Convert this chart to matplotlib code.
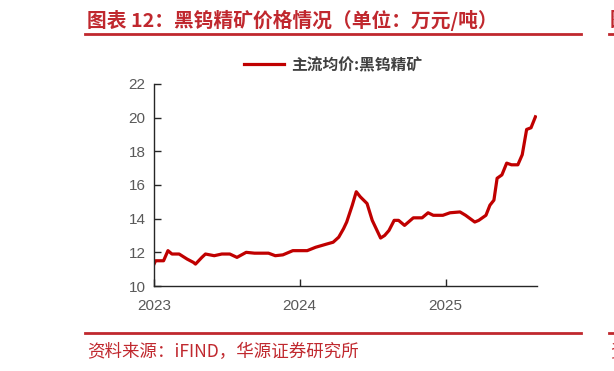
import numpy as np
import pandas as pd
import matplotlib
matplotlib.use("Agg")
import matplotlib.pyplot as plt
import matplotlib.dates as mdates

# 主流均价:黑钨精矿 (万元/吨)
dates = ["2023-01-01", "2023-01-05", "2023-01-25", "2023-02-05", "2023-02-15",
         "2023-03-05", "2023-03-25", "2023-04-10", "2023-04-15", "2023-05-01",
         "2023-05-10", "2023-06-01", "2023-06-20", "2023-07-10", "2023-07-28",
         "2023-08-20", "2023-09-10", "2023-10-15", "2023-11-01", "2023-11-20",
         "2023-12-15", "2024-01-20", "2024-02-10", "2024-03-10", "2024-03-25",
         "2024-04-08", "2024-04-20", "2024-04-28", "2024-05-12", "2024-05-22",
         "2024-06-01", "2024-06-18", "2024-07-01", "2024-07-22", "2024-08-01",
         "2024-08-12", "2024-08-25", "2024-09-05", "2024-09-20", "2024-10-12",
         "2024-11-03", "2024-11-18", "2024-12-01", "2024-12-25", "2025-01-12",
         "2025-02-06", "2025-02-20", "2025-03-15", "2025-03-25", "2025-04-12",
         "2025-04-22", "2025-05-02", "2025-05-10", "2025-05-22", "2025-06-03",
         "2025-06-15", "2025-07-01", "2025-07-12", "2025-07-23", "2025-08-03",
         "2025-08-14"]
prices = [11.3, 11.5, 11.5, 12.1, 11.9,
          11.9, 11.6, 11.4, 11.3, 11.7,
          11.9, 11.8, 11.9, 11.9, 11.7,
          12.0, 11.95, 11.95, 11.8, 11.85,
          12.1, 12.1, 12.3, 12.5, 12.6,
          12.9, 13.4, 13.8, 14.8, 15.6,
          15.3, 14.9, 13.9, 12.85, 13.0,
          13.3, 13.9, 13.9, 13.6, 14.05,
          14.05, 14.35, 14.2, 14.2, 14.35,
          14.4, 14.2, 13.8, 13.9, 14.2,
          14.8, 15.1, 16.4, 16.6, 17.3,
          17.2, 17.2, 17.8, 19.3, 19.4,
          20.05]
series_name = "主流均价:黑钨精矿"
title = "图表 12：黑钨精矿价格情况（单位：万元/吨）"
source = "资料来源：iFIND，华源证券研究所"
yticks = [10, 12, 14, 16, 18, 20, 22]
xticks = ["2023-01-01", "2024-01-01", "2025-01-01"]

red = "#C0282E"
cjk = ["Noto Sans CJK SC", "DejaVu Sans"]
plt.rcParams["font.family"] = ["Liberation Sans", "Noto Sans CJK SC"]

fig = plt.figure(figsize=(6.14, 3.71), dpi=100)
ax = fig.add_axes([0.2508, 0.2291, 0.6238, 0.5445])

d = pd.to_datetime(dates)
ax.plot(d, prices, color="#C00000", lw=2.3, label=series_name,
        solid_joinstyle="round")

ax.set_ylim(10, 22)
ax.set_yticks(yticks)
ax.set_xlim(pd.Timestamp("2023-01-01"), pd.Timestamp("2025-08-18"))
ax.set_xticks(pd.to_datetime(xticks))
ax.xaxis.set_major_formatter(mdates.DateFormatter("%Y"))
for s in ["top", "right"]:
    ax.spines[s].set_visible(False)
for s in ["left", "bottom"]:
    ax.spines[s].set_color("#262626")
    ax.spines[s].set_linewidth(1.0)
ax.tick_params(axis="both", direction="in", length=5, width=1,
               color="#262626", labelcolor="#595959", labelsize=11)
ax.tick_params(axis="x", pad=9)
ax.tick_params(axis="y", pad=6)

leg = fig.legend(loc="center", bbox_to_anchor=(0.542, 0.825), frameon=False,
                 handlelength=2.55, handletextpad=0.45,
                 prop={"family": cjk, "weight": "bold", "size": 11.3})
for t in leg.get_texts():
    t.set_color("#404040")

# header and footer
fig.text(87 / 614, 1 - 20 / 371, title, color=red, fontsize=14.2,
         fontweight="bold", family=cjk, va="center", ha="left")
fig.add_artist(plt.Line2D([85 / 614, 581 / 614], [1 - 34 / 371] * 2,
                          color=red, lw=2))
fig.add_artist(plt.Line2D([85 / 614, 581 / 614], [1 - 333 / 371] * 2,
                          color=red, lw=2))
fig.text(87 / 614, 1 - 352 / 371, source, color=red, fontsize=12.6,
         family=cjk, va="center", ha="left")
# edge of the neighbouring panel, cropped by the picture border
fig.add_artist(plt.Line2D([609 / 614, 1.0], [1 - 34 / 371] * 2, color=red, lw=2))
fig.add_artist(plt.Line2D([609 / 614, 1.0], [1 - 333 / 371] * 2, color=red, lw=2))
fig.text(610 / 614, 1 - 20 / 371, "图", color=red, fontsize=14.2,
         fontweight="bold", family=cjk, va="center", ha="left")
fig.text(610 / 614, 1 - 352 / 371, "资", color=red, fontsize=12.6,
         family=cjk, va="center", ha="left")

fig.savefig("out.png", dpi=100)
